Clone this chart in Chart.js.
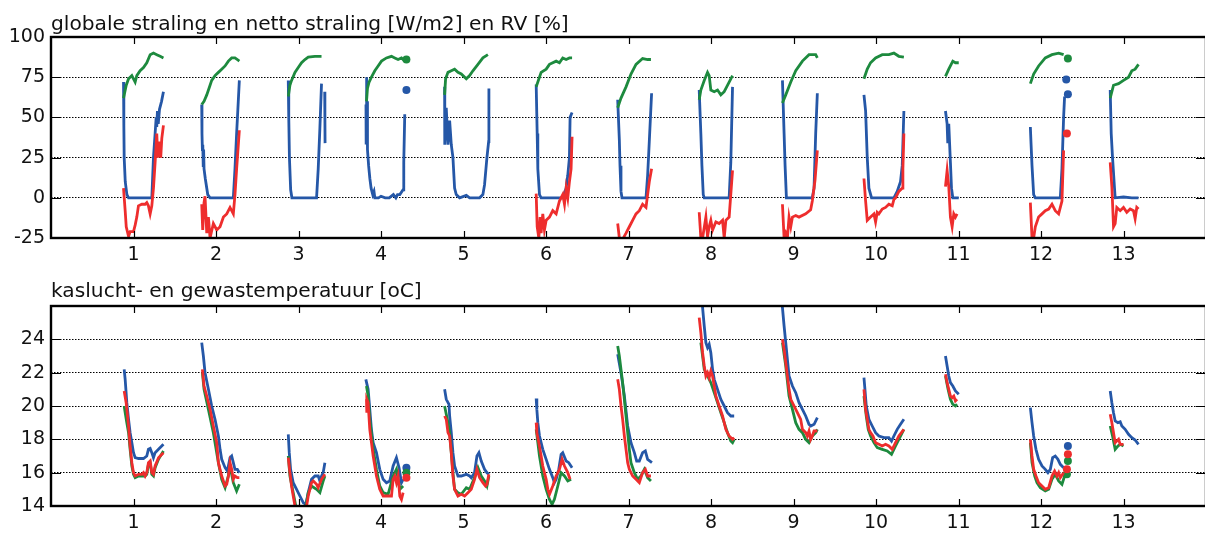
<!DOCTYPE html>
<html>
<head>
<meta charset="utf-8">
<script src="https://cdn.jsdelivr.net/npm/chart.js@4.4.0/dist/chart.umd.min.js"></script>
<style>
  html, body { margin: 0; padding: 0; background: #fff; overflow: hidden; width: 1205px; height: 533px; }
  #wrap { position: relative; width: 1205px; height: 533px; overflow: hidden; }
  canvas { position: absolute; left: 0; }
  #straling { top: 0; }
  #temperatuur { top: 270px; }
</style>
</head>
<body>
<div id="wrap">
<canvas id="straling" width="1212" height="270"></canvas>
<canvas id="temperatuur" width="1212" height="263"></canvas>
</div>
<script>
// dagen op de x-as
const dagen = [1, 2, 3, 4, 5, 6, 7, 8, 9, 10, 11, 12, 13];
const yTicksStraling = [-25, 0, 25, 50, 75, 100];
const yTicksTemp = [14, 16, 18, 20, 22, 24];

// [dag, waarde], null = onderbreking
const globaleStraling = [
  [0.879, 72], [0.883, 45], [0.887, 25], [0.90, 10], [0.92, 2], [0.94, 0], [1.222, 0], [1.242, 25], [1.262, 40], [1.275, 50], [1.282, 44], [1.29, 54], [1.30, 46], [1.315, 55], [1.34, 60], [1.363, 66],
  null,
  [1.827, 58], [1.830, 40], [1.835, 30], [1.840, 33], [1.845, 20], [1.850, 30], [1.855, 18], [1.87, 12], [1.90, 2], [1.928, 0], [2.21, 0], [2.23, 18], [2.25, 40], [2.27, 60], [2.283, 73],
  null,
  [2.876, 73], [2.882, 50], [2.89, 25], [2.905, 5], [2.92, 0], [3.219, 0], [3.239, 18], [3.259, 43], [3.279, 71],
  null,
  [3.318, 66], [3.320, 50], [3.322, 34],
  null,
  [3.818, 58], [3.82, 34], [3.824, 75], [3.828, 45], [3.832, 60], [3.836, 30], [3.85, 20], [3.865, 12], [3.88, 6], [3.90, 2], [3.915, 4], [3.925, 0], [3.97, 0], [4.0, 1], [4.05, 0], [4.10, 0], [4.15, 2], [4.18, 0], [4.20, 2], [4.228, 2], [4.268, 5], [4.276, 22], [4.288, 52],
  null, [4.308, 67], null,
  [4.771, 69], [4.773, 33], [4.791, 56], [4.812, 33], [4.832, 48], [4.852, 33], [4.872, 25], [4.892, 6], [4.912, 2], [4.953, 0], [5.034, 1.5], [5.074, 0], [5.195, 0], [5.235, 2], [5.255, 8], [5.284, 25], [5.305, 35], [5.308, 68],
  null,
  [5.881, 70.5], [5.893, 40], [5.901, 18], [5.921, 2], [5.941, 0], [6.203, 0], [6.244, 6], [6.264, 14], [6.284, 25], [6.292, 50], [6.316, 53],
  null,
  [6.869, 61], [6.889, 36], [6.897, 20], [6.909, 4], [6.921, 0], [7.212, 0], [7.232, 14], [7.252, 35], [7.280, 65],
  null,
  [7.857, 67], [7.877, 40], [7.89, 20], [7.906, 2], [7.918, 0], [8.220, 0], [8.240, 22], [8.261, 69],
  null,
  [8.866, 73], [8.886, 40], [8.898, 20], [8.914, 0], [9.228, 0], [9.249, 6], [9.269, 40], [9.289, 65],
  null,
  [9.854, 64], [9.874, 54], [9.894, 25], [9.914, 6], [9.946, 0], [10.217, 0], [10.257, 4], [10.297, 10], [10.318, 20], [10.338, 54],
  null,
  [10.842, 54], [10.862, 46], [10.870, 34], [10.882, 46], [10.902, 22], [10.915, 6], [10.931, 0], [11.003, 0],
  null,
  [11.871, 44], [11.879, 34], [11.891, 20], [11.911, 2], [11.931, 0], [12.234, 0], [12.254, 18], [12.274, 50], [12.286, 63],
  null, [12.306, 73.5], null, [12.326, 64.4], null,
  [12.839, 67], [12.851, 40], [12.867, 25], [12.891, 6], [12.899, 0], [13.0, 0.5], [13.101, 0], [13.182, 0]
];

const nettoStraling = [
  [0.879, 6], [0.899, -8], [0.912, -18], [0.940, -24], [0.959, -21], [1.0, -21], [1.02, -17], [1.04, -12], [1.06, -5], [1.101, -4], [1.141, -4], [1.161, -3], [1.181, -5], [1.202, -10], [1.222, -5], [1.242, 6], [1.262, 22], [1.282, 40], [1.294, 25], [1.315, 35], [1.33, 25], [1.343, 37], [1.363, 45],
  null,
  [1.827, -4], [1.839, -20], [1.855, -3], [1.867, 1], [1.879, -12], [1.888, -22], [1.908, -12], [1.928, -25], [1.968, -16], [2.009, -20], [2.049, -18], [2.09, -12], [2.130, -10], [2.170, -6], [2.21, -10], [2.23, 2], [2.25, 18], [2.283, 42],
  null,
  [5.881, 2.6], [5.893, -18], [5.913, -25], [5.929, -12], [5.941, -22], [5.961, -10], [5.981, -20], [6.002, -14], [6.042, -12], [6.082, -8], [6.123, -10], [6.163, -2], [6.203, 2], [6.224, -4], [6.244, 6], [6.264, 0], [6.284, 10], [6.304, 18], [6.316, 38],
  null,
  [6.869, -16], [6.889, -25], [6.921, -27], [6.937, -25], [6.970, -22], [7.010, -18], [7.050, -14], [7.091, -10], [7.131, -8], [7.171, -4], [7.212, -6], [7.232, 2], [7.252, 10], [7.280, 18],
  null,
  [7.857, -9], [7.877, -25], [7.898, -25], [7.938, -12], [7.958, -24], [7.978, -18], [7.998, -14], [8.019, -20], [8.059, -15], [8.099, -16], [8.140, -14], [8.160, -25], [8.180, -14], [8.220, -12], [8.261, 17],
  null,
  [8.866, -4], [8.886, -25], [8.906, -22], [8.926, -25], [8.946, -12], [8.967, -18], [8.987, -12], [9.027, -11], [9.067, -12], [9.148, -10], [9.208, -7.5], [9.228, -2], [9.261, 11], [9.289, 29.5],
  null,
  [9.854, 12], [9.874, -2], [9.894, -14], [9.934, -12], [9.975, -10], [9.995, -15], [10.015, -9], [10.035, -10], [10.076, -7], [10.116, -6], [10.156, -4], [10.197, -5], [10.217, -1], [10.237, 0], [10.277, 4], [10.318, 6], [10.326, 18], [10.338, 40],
  null,
  [10.842, 7], [10.862, 17], [10.882, 7], [10.902, -12], [10.923, -18], [10.943, -10], [10.963, -12], [10.983, -10],
  null,
  [11.871, -3], [11.891, -25], [11.911, -25], [11.931, -18], [11.971, -12], [12.012, -10], [12.052, -8], [12.093, -7], [12.133, -4], [12.173, -8], [12.214, -10], [12.254, -2], [12.274, 29.5],
  null, [12.314, 40], null,
  [12.839, 22], [12.859, 7], [12.879, -18], [12.899, -16], [12.919, -6], [12.960, -8], [13.0, -6], [13.040, -9], [13.081, -7], [13.121, -8], [13.141, -13], [13.161, -6], [13.182, -7]
];

const rv = [
  [0.879, 62], [0.912, 70], [0.940, 74], [0.980, 76], [1.0, 74], [1.02, 72], [1.04, 76], [1.08, 79], [1.121, 81], [1.161, 84], [1.202, 89], [1.242, 90], [1.282, 89], [1.323, 88], [1.363, 87],
  null,
  [1.827, 58], [1.855, 60], [1.888, 64], [1.928, 70], [1.948, 73], [1.988, 76], [2.029, 78], [2.069, 80], [2.110, 82], [2.150, 85], [2.190, 87], [2.230, 87], [2.259, 86], [2.283, 85],
  null,
  [2.876, 63], [2.896, 70], [2.916, 73], [2.957, 78], [2.997, 81], [3.037, 84], [3.078, 86], [3.118, 87.5], [3.199, 88], [3.279, 88],
  null,
  [3.824, 60], [3.836, 68], [3.856, 72], [3.884, 75], [3.925, 79], [3.965, 82], [4.006, 85], [4.066, 87], [4.127, 88], [4.167, 87], [4.207, 86], [4.248, 87], [4.288, 85],
  null, [4.308, 86], null,
  [4.771, 64], [4.783, 74], [4.812, 78], [4.852, 79], [4.892, 80], [4.933, 78], [4.973, 77], [5.034, 74], [5.074, 76], [5.114, 79], [5.175, 83], [5.235, 87], [5.296, 89],
  null,
  [5.881, 69], [5.901, 72], [5.941, 78], [6.002, 80], [6.042, 83], [6.123, 85], [6.163, 84], [6.203, 87], [6.244, 86], [6.284, 87], [6.316, 87],
  null,
  [6.869, 56], [6.909, 62], [6.970, 69], [7.030, 77], [7.091, 83], [7.171, 86.6], [7.232, 86], [7.272, 86],
  null,
  [7.857, 61], [7.877, 67], [7.918, 73], [7.958, 78], [7.978, 76], [7.998, 67], [8.039, 66], [8.079, 67], [8.119, 64], [8.160, 66], [8.220, 72], [8.261, 76],
  null,
  [8.866, 59], [8.906, 64], [8.967, 72], [9.027, 79], [9.108, 85], [9.188, 89], [9.269, 89], [9.289, 87],
  null,
  [9.854, 74], [9.894, 80], [9.934, 84], [9.995, 87], [10.076, 89], [10.156, 89], [10.217, 90], [10.277, 88], [10.338, 87.5],
  null,
  [10.842, 75.5], [10.882, 80], [10.931, 85], [10.963, 84], [11.003, 84],
  null,
  [11.871, 71], [11.911, 77], [11.971, 82], [12.052, 87], [12.133, 89], [12.214, 90], [12.274, 89],
  null, [12.326, 86.6], null,
  [12.839, 62], [12.879, 70], [12.940, 71], [13.000, 73], [13.061, 75], [13.101, 79], [13.141, 80], [13.182, 83]
];

const kasluchtTemp = [
  [0.887, 22.2], [0.899, 21.6], [0.919, 20.2], [0.940, 19.2], [0.959, 18.4], [0.980, 17.8], [1.0, 17.2], [1.02, 16.9], [1.061, 16.85], [1.121, 16.85], [1.161, 17.0], [1.181, 17.4], [1.202, 17.45], [1.222, 17.2], [1.242, 16.9], [1.262, 17.2], [1.303, 17.4], [1.363, 17.7],
  null,
  [1.827, 23.8], [1.847, 23.0], [1.867, 22.0], [1.908, 21.0], [1.948, 20.0], [1.988, 19.2], [2.029, 18.2], [2.049, 17.4], [2.069, 16.8], [2.110, 16.3], [2.138, 16.1], [2.170, 16.9], [2.190, 17.0], [2.21, 16.6], [2.23, 16.2], [2.259, 16.2], [2.283, 16.0],
  null,
  [2.876, 18.3], [2.888, 17.2], [2.904, 16.2], [2.936, 15.4], [2.977, 15.0], [3.017, 14.6], [3.058, 14.2], [3.090, 14.1], [3.118, 14.8], [3.158, 15.6], [3.199, 15.8], [3.239, 15.8], [3.259, 15.5], [3.279, 15.8], [3.299, 16.0], [3.320, 16.6],
  null,
  [3.816, 21.6], [3.844, 21.0], [3.864, 19.8], [3.884, 18.6], [3.905, 17.8], [3.945, 17.2], [3.985, 16.2], [4.026, 15.6], [4.066, 15.4], [4.106, 15.5], [4.147, 16.4], [4.187, 16.9], [4.219, 16.3], [4.248, 15.4], [4.268, 15.6],
  null, [4.308, 16.3], null,
  [4.771, 21.0], [4.791, 20.4], [4.824, 20.1], [4.832, 19.4], [4.852, 18.4], [4.872, 17.2], [4.892, 16.4], [4.933, 15.8], [4.973, 15.8], [5.034, 15.9], [5.074, 15.8], [5.094, 15.7], [5.134, 16.0], [5.163, 17.0], [5.187, 17.2], [5.215, 16.7], [5.255, 16.2], [5.284, 16.0], [5.308, 15.9],
  null,
  [5.881, 20.45], [5.889, 19.8], [5.901, 19.0], [5.921, 18.2], [5.961, 17.4], [6.002, 16.8], [6.042, 16.2], [6.082, 15.7], [6.102, 15.4], [6.123, 15.6], [6.155, 16.2], [6.183, 17.1], [6.203, 17.2], [6.244, 16.7], [6.276, 16.6], [6.316, 16.3],
  null,
  [6.869, 23.1], [6.909, 22.0], [6.950, 20.6], [6.990, 18.8], [7.030, 17.8], [7.071, 17.2], [7.099, 16.7], [7.131, 16.7], [7.171, 17.2], [7.204, 17.3], [7.232, 16.8], [7.284, 16.6],
  null,
  [7.89, 26.4], [7.898, 25.9], [7.918, 24.8], [7.938, 23.8], [7.958, 23.5], [7.978, 23.7], [7.998, 23.2], [8.019, 22.2], [8.039, 21.6], [8.079, 21.0], [8.119, 20.4], [8.160, 20.0], [8.200, 19.6], [8.240, 19.4], [8.281, 19.4],
  null,
  [8.86, 26.3], [8.866, 25.9], [8.886, 24.8], [8.906, 23.8], [8.926, 22.8], [8.946, 21.8], [8.987, 21.2], [9.027, 20.8], [9.067, 20.2], [9.108, 19.8], [9.148, 19.4], [9.188, 18.9], [9.21, 18.8], [9.25, 18.9], [9.289, 19.3],
  null,
  [9.854, 21.7], [9.866, 21.0], [9.882, 20.0], [9.914, 19.2], [9.954, 18.8], [9.995, 18.4], [10.035, 18.2], [10.096, 18.1], [10.156, 18.1], [10.188, 17.9], [10.217, 18.2], [10.257, 18.6], [10.297, 18.9], [10.338, 19.2],
  null,
  [10.842, 23.0], [10.862, 22.4], [10.882, 21.8], [10.902, 21.4], [10.931, 21.2], [10.963, 20.9], [11.003, 20.7],
  null,
  [11.871, 19.9], [11.891, 19.0], [11.911, 18.2], [11.939, 17.4], [11.971, 16.8], [12.012, 16.4], [12.052, 16.2], [12.084, 16.0], [12.113, 16.2], [12.141, 16.9], [12.173, 17.0], [12.205, 16.8], [12.234, 16.5], [12.274, 16.3],
  null, [12.326, 17.6], null,
  [12.839, 20.9], [12.859, 20.2], [12.879, 19.6], [12.899, 19.1], [12.932, 19.0], [12.960, 19.05], [12.980, 18.8], [13.020, 18.6], [13.061, 18.3], [13.101, 18.1], [13.141, 17.96], [13.182, 17.7]
];

const gewasTempA = [
  [0.887, 20.0], [0.899, 19.6], [0.919, 19.0], [0.940, 18.4], [0.959, 17.4], [0.980, 16.4], [1.0, 15.9], [1.02, 15.7], [1.061, 15.8], [1.101, 15.8], [1.141, 15.8], [1.161, 15.9], [1.181, 16.5], [1.202, 16.6], [1.222, 15.9], [1.242, 15.8], [1.262, 16.3], [1.303, 16.8], [1.363, 17.3],
  null,
  [1.835, 22.0], [1.855, 21.0], [1.908, 19.8], [1.968, 18.4], [2.029, 16.6], [2.069, 15.6], [2.110, 15.1], [2.150, 15.8], [2.170, 16.4], [2.21, 15.4], [2.25, 14.9], [2.283, 15.3],
  null,
  [2.876, 17.0], [2.896, 15.8], [2.936, 14.8], [2.967, 14.0], [2.99, 13.7], [3.07, 13.7], [3.09, 14.0], [3.118, 14.8], [3.158, 15.2], [3.219, 15.0], [3.259, 14.8], [3.299, 15.5], [3.320, 15.8],
  null,
  [3.824, 21.2], [3.844, 20.6], [3.864, 19.2], [3.905, 17.4], [3.945, 16.2], [3.985, 15.2], [4.026, 14.8], [4.086, 14.7], [4.147, 15.8], [4.187, 16.2], [4.228, 15.0], [4.268, 15.2],
  null, [4.308, 16.0], null,
  [4.771, 20.0], [4.812, 19.0], [4.832, 18.4], [4.872, 16.0], [4.892, 15.0], [4.933, 14.8], [4.973, 14.7], [5.034, 15.1], [5.074, 15.0], [5.134, 15.7], [5.175, 16.3], [5.215, 15.8], [5.255, 15.5], [5.284, 15.2], [5.308, 15.8],
  null,
  [5.881, 18.6], [5.901, 17.8], [5.921, 17.0], [5.961, 15.8], [6.002, 15.0], [6.042, 14.4], [6.074, 14.1], [6.102, 14.4], [6.143, 15.2], [6.183, 16.0], [6.224, 15.8], [6.264, 15.5], [6.304, 15.6],
  null,
  [6.869, 23.6], [6.889, 23.0], [6.909, 22.2], [6.929, 21.4], [6.950, 20.4], [6.970, 19.4], [6.990, 18.4], [7.010, 17.4], [7.030, 16.6], [7.071, 16.0], [7.111, 15.6], [7.151, 15.8], [7.192, 16.2], [7.232, 15.7], [7.272, 15.5],
  null,
  [7.877, 23.8], [7.898, 23.0], [7.918, 22.2], [7.958, 21.8], [7.998, 21.4], [8.039, 20.8], [8.079, 20.2], [8.119, 19.6], [8.160, 19.0], [8.200, 18.4], [8.240, 17.9], [8.261, 17.8], [8.281, 18.0],
  null,
  [8.866, 23.8], [8.906, 22.4], [8.946, 20.6], [8.987, 19.8], [9.027, 19.0], [9.067, 18.6], [9.108, 18.4], [9.148, 18.0], [9.188, 17.8], [9.208, 18.0], [9.228, 18.2], [9.269, 18.4], [9.289, 18.6],
  null,
  [9.854, 20.6], [9.882, 19.4], [9.906, 18.6], [9.934, 18.2], [9.975, 17.8], [10.015, 17.5], [10.076, 17.4], [10.136, 17.3], [10.188, 17.1], [10.237, 17.6], [10.277, 18.0], [10.338, 18.6],
  null,
  [10.842, 21.8], [10.874, 21.0], [10.902, 20.4], [10.931, 20.1], [10.963, 20.0], [10.983, 20.1],
  null,
  [11.871, 17.8], [11.891, 16.6], [11.923, 15.8], [11.951, 15.4], [11.992, 15.1], [12.052, 14.9], [12.093, 15.0], [12.133, 15.6], [12.173, 15.9], [12.214, 15.5], [12.254, 15.3], [12.286, 15.8],
  null, [12.326, 16.7], null, [12.314, 15.9], null,
  [12.839, 18.8], [12.867, 18.2], [12.899, 17.4], [12.932, 17.6], [12.960, 17.7], [13.000, 17.6]
];

const gewasTempB = [
  [0.887, 20.9], [0.911, 20.2], [0.940, 18.8], [0.959, 17.6], [0.980, 16.6], [1.0, 16.0], [1.02, 15.8], [1.061, 15.9], [1.101, 15.9], [1.121, 16.0], [1.141, 15.8], [1.161, 16.0], [1.181, 16.6], [1.202, 16.7], [1.222, 16.0], [1.242, 15.9], [1.262, 16.4], [1.303, 16.9], [1.363, 17.2],
  null,
  [1.835, 22.2], [1.855, 21.2], [1.888, 20.6], [1.928, 19.8], [1.968, 18.8], [2.009, 17.8], [2.029, 16.6], [2.069, 15.8], [2.110, 15.2], [2.130, 15.3], [2.150, 15.8], [2.170, 16.6], [2.190, 16.2], [2.21, 15.6], [2.23, 15.8], [2.259, 15.7], [2.283, 15.7],
  null,
  [2.876, 16.9], [2.896, 16.0], [2.916, 15.2], [2.936, 14.6], [2.957, 14.0], [2.977, 13.6], [3.058, 13.6], [3.098, 14.0], [3.118, 14.6], [3.158, 15.4], [3.179, 15.5], [3.219, 15.3], [3.239, 15.1], [3.279, 15.6], [3.320, 15.9],
  null,
  [3.824, 20.4], [3.826, 19.6], [3.830, 20.4], [3.844, 20.2], [3.864, 18.6], [3.905, 17.0], [3.945, 15.8], [3.985, 15.0], [4.026, 14.6], [4.086, 14.6], [4.127, 14.6], [4.147, 15.6], [4.167, 15.8], [4.187, 15.4], [4.207, 15.8], [4.228, 14.6], [4.248, 14.4], [4.268, 14.8],
  null, [4.308, 15.7], null,
  [4.771, 19.4], [4.791, 19.2], [4.812, 18.4], [4.832, 18.2], [4.852, 17.2], [4.872, 15.8], [4.892, 15.0], [4.933, 14.6], [4.973, 14.7], [5.013, 14.6], [5.054, 14.8], [5.094, 15.0], [5.134, 15.6], [5.163, 16.2], [5.195, 15.7], [5.235, 15.4], [5.267, 15.2], [5.284, 15.3], [5.308, 15.9],
  null,
  [5.881, 19.0], [5.889, 18.4], [5.913, 17.8], [5.941, 17.0], [5.961, 16.4], [6.002, 15.6], [6.022, 15.0], [6.042, 14.7], [6.082, 15.2], [6.123, 15.8], [6.163, 16.2], [6.195, 16.8], [6.224, 16.4], [6.264, 16.0], [6.292, 15.6],
  null,
  [6.869, 21.6], [6.889, 21.0], [6.909, 20.0], [6.929, 19.2], [6.950, 18.2], [6.970, 17.4], [6.990, 16.6], [7.010, 16.2], [7.050, 15.8], [7.091, 15.6], [7.131, 15.4], [7.171, 16.0], [7.204, 16.2], [7.232, 15.8], [7.272, 15.8],
  null,
  [7.857, 25.3], [7.877, 24.4], [7.898, 23.2], [7.918, 22.4], [7.938, 21.8], [7.958, 22.0], [7.978, 21.7], [7.998, 22.1], [8.019, 21.8], [8.039, 21.2], [8.059, 20.6], [8.099, 20.0], [8.140, 19.4], [8.180, 18.6], [8.220, 18.2], [8.261, 18.0], [8.281, 18.1],
  null,
  [8.866, 24.0], [8.886, 23.4], [8.906, 22.6], [8.926, 21.8], [8.946, 21.0], [8.967, 20.4], [9.007, 20.0], [9.047, 19.6], [9.087, 19.2], [9.108, 18.6], [9.148, 18.4], [9.168, 18.2], [9.188, 18.5], [9.208, 18.0], [9.228, 18.2], [9.249, 18.5], [9.289, 18.5],
  null,
  [9.854, 21.0], [9.874, 19.8], [9.894, 19.2], [9.914, 18.6], [9.934, 18.4], [9.963, 18.2], [9.995, 17.8], [10.035, 17.7], [10.076, 17.6], [10.116, 17.7], [10.156, 17.6], [10.197, 17.4], [10.237, 17.8], [10.277, 18.2], [10.338, 18.6],
  null,
  [10.842, 21.9], [10.862, 21.4], [10.882, 21.0], [10.902, 20.6], [10.923, 20.5], [10.943, 20.6], [10.963, 20.3], [10.983, 20.4],
  null,
  [11.871, 18.0], [11.891, 17.0], [11.911, 16.2], [11.939, 15.8], [11.971, 15.4], [12.012, 15.2], [12.052, 15.0], [12.093, 15.1], [12.133, 15.8], [12.165, 16.1], [12.194, 15.8], [12.214, 16.0], [12.234, 15.7], [12.274, 16.0],
  null, [12.326, 17.1], null, [12.314, 16.2], null,
  [12.839, 19.5], [12.859, 19.0], [12.879, 18.4], [12.899, 17.8], [12.919, 17.9], [12.940, 18.0], [12.960, 17.7], [13.000, 17.7]
];

const BLAUW = '#2557a7';
const GROEN = '#1d8a3e';
const ROOD = '#ee2d2d';

Chart.defaults.font.family = '"DejaVu Sans", Verdana, sans-serif';
Chart.defaults.font.size = 19;
Chart.defaults.color = '#111';

function toPoints(pairs) {
    let lastX = 0;
    return pairs.map(p => {
        if (!p) return { x: lastX, y: null };
        lastX = p[0];
        return { x: p[0], y: p[1] };
    });
}

// losse punten (zonder buren) als stip tekenen
function dotRadius(ctx) {
    const d = ctx.dataset.data;
    const i = ctx.dataIndex;
    const prev = d[i - 1];
    const next = d[i + 1];
    const alone = (!prev || prev.y === null) && (!next || next.y === null);
    return alone ? 4 : 0;
}

function lijn(data, color, order) {
    return {
        data: toPoints(data),
        borderColor: color,
        backgroundColor: color,
        borderWidth: 2.8,
        pointRadius: dotRadius,
        pointBorderWidth: 0,
        pointHoverRadius: 0,
        tension: 0,
        spanGaps: false,
        clip: 0,
        order: order
    };
}

const kader = {
    id: 'kader',
    afterDatasetsDraw(chart) {
        const { ctx, chartArea: a, scales: { x, y } } = chart;
        ctx.save();
        ctx.strokeStyle = '#000';
        ctx.lineWidth = 1.2;
        ctx.beginPath();
        dagen.forEach(d => {
            const px = Math.round(x.getPixelForValue(d)) + 0.5;
            ctx.moveTo(px, a.bottom);
            ctx.lineTo(px, a.bottom - 7);
            ctx.moveTo(px, a.top);
            ctx.lineTo(px, a.top + 7);
        });
        y.ticks.forEach(t => {
            const py = Math.round(y.getPixelForValue(t.value)) + 0.5;
            ctx.moveTo(a.left, py);
            ctx.lineTo(a.left + 10, py);
            ctx.moveTo(a.right, py);
            ctx.lineTo(a.right - 10, py);
        });
        ctx.stroke();
        ctx.lineWidth = 2.4;
        ctx.strokeRect(a.left, a.top, a.right - a.left, a.bottom - a.top);
        ctx.restore();
    }
};

const paneelTitel = {
    id: 'paneelTitel',
    afterDraw(chart, args, opts) {
        const { ctx, chartArea: a } = chart;
        ctx.save();
        ctx.font = '20.2px "DejaVu Sans", Verdana, sans-serif';
        ctx.fillStyle = '#111';
        ctx.textBaseline = 'alphabetic';
        ctx.textAlign = 'left';
        ctx.fillText(opts.text, a.left, a.top - opts.dy);
        ctx.restore();
    }
};

function opties(titel, dy, yMin, yMax, yStep, labels, padTop, xHeight) {
    return {
        responsive: false,
        animation: false,
        devicePixelRatio: 1,
        // canvas is breder dan het venster: de rechterrand valt buiten beeld
        layout: { padding: { top: padTop, left: 0, right: 4, bottom: 0 } },
        plugins: {
            legend: { display: false },
            tooltip: { enabled: false },
            paneelTitel: { text: titel, dy: dy }
        },
        scales: {
            x: {
                type: 'linear',
                min: 0,
                max: 14,
                afterFit: s => { s.height = xHeight; },
                grid: { display: false, drawTicks: false },
                border: { display: false },
                ticks: {
                    stepSize: 1,
                    autoSkip: false,
                    maxRotation: 0,
                    padding: 6,
                    callback: v => (dagen.includes(v) ? String(v) : '')
                }
            },
            y: {
                min: yMin,
                max: yMax,
                afterFit: s => { s.width = 51; },
                grid: {
                    drawTicks: false,
                    lineWidth: 1,
                    color: c => (c.tick && (c.tick.value === yMin || c.tick.value === yMax) ? 'rgba(0,0,0,0)' : '#000')
                },
                border: { display: false, dash: [1.5, 1.5] },
                ticks: {
                    stepSize: yStep,
                    padding: 6,
                    callback: v => (labels.includes(v) ? String(v) : '')
                }
            }
        }
    };
}

document.addEventListener('DOMContentLoaded', () => {
    new Chart(document.getElementById('straling'), {
        type: 'line',
        data: {
            datasets: [
                lijn(nettoStraling, ROOD, 0),
                lijn(rv, GROEN, 1),
                lijn(globaleStraling, BLAUW, 2)
            ]
        },
        options: opties('globale straling en netto straling [W/m2] en RV [%]', 7,
            yTicksStraling[0], yTicksStraling[yTicksStraling.length - 1], 25, yTicksStraling, 37, 32),
        plugins: [kader, paneelTitel]
    });

    new Chart(document.getElementById('temperatuur'), {
        type: 'line',
        data: {
            datasets: [
                lijn(gewasTempB, ROOD, 0),
                lijn(gewasTempA, GROEN, 1),
                lijn(kasluchtTemp, BLAUW, 2)
            ]
        },
        options: opties('kaslucht- en gewastemperatuur [oC]', 9,
            yTicksTemp[0], 26, 2, yTicksTemp, 36, 27),
        plugins: [kader, paneelTitel]
    });
});
</script>
</body>
</html>
